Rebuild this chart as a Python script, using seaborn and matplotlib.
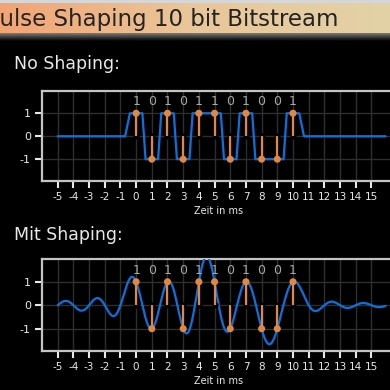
import numpy as np
import pandas as pd
import matplotlib.pyplot as plt
import seaborn as sns
from matplotlib.colors import LinearSegmentedColormap

# ── data ─────────────────────────────────────────────
bits = [1, 0, 1, 0, 1, 1, 0, 1, 0, 0, 1]
bit_times = list(range(11))
symbols = [1 if b else -1 for b in bits]
x_ticks = list(range(-5, 16))
y_ticks = [-1, 0, 1]
t_start, t_end = -5, 15.9
rise = 0.4  # half width of a bit plateau in the unshaped signal

title = "Pulse Shaping 10 bit Bitstream"
panel_titles = ["No Shaping:", "Mit Shaping:"]
x_label = "Zeit in ms"

blue = "#0a72de"
orange = "#e3873f"
spine_col = "#c4c4c4"
grid_col = "#2e2e2e"
text_col = "#e8e8e8"

# unshaped: rectangular pulses with short ramps
t_rect = [t_start, bit_times[0] - 1 + rise / 2 + 0.1]
v_rect = [0, 0]
for k, s in zip(bit_times, symbols):
    t_rect += [k - rise, k + rise]
    v_rect += [s, s]
t_rect += [bit_times[-1] + 1 - rise / 2 - 0.1, t_end]
v_rect += [0, 0]
rect = pd.DataFrame({"t": t_rect, "v": v_rect})

# shaped: sinc pulses of the same symbols
t = np.linspace(t_start, t_end, 900)
shaped = pd.DataFrame({"t": t})
shaped["v"] = sum(s * np.sinc(t - k) for k, s in zip(bit_times, symbols))

stems = pd.DataFrame({"t": bit_times, "v": symbols})

sns.set_theme(style="ticks")
plt.rcParams["font.family"] = ["DejaVu Sans"]

fig = plt.figure(figsize=(3.9, 3.9), dpi=100, facecolor="black")

# ── header bar ──────────────────────────────────────
head = fig.add_axes([0, 1 - 33 / 390, 1, 30 / 390])
cmap = LinearSegmentedColormap.from_list("hdr", ["#f2a474", "#e9c79a", "#e2d2a6"])
head.imshow(np.linspace(0, 1, 256)[None, :], aspect="auto", cmap=cmap,
            extent=[0, 1, 0, 1])
head.axis("off")
strip = fig.add_axes([0, 1 - 3 / 390, 1, 3 / 390])
strip.axis("off")
strip.add_patch(plt.Rectangle((0, 0), 1, 1, color="#d6d6d6", transform=strip.transAxes))
shade = fig.add_axes([0, 1 - 41 / 390, 1, 8 / 390])
shade_cmap = LinearSegmentedColormap.from_list("shd", ["#000000", "#8a8a8a"])
shade.imshow(np.linspace(0, 1, 64)[:, None], aspect="auto", cmap=shade_cmap,
             extent=[0, 1, 0, 1], origin="lower")
shade.axis("off")
fig.text(-0.036, 1 - 26 / 390, title, fontsize=16.5, color="#242424")


def panel(ax, line_df):
    ax.set_facecolor("black")
    ax.grid(True, color=grid_col, lw=1.0)
    ax.set_axisbelow(True)
    sns.lineplot(data=line_df, x="t", y="v", ax=ax, color=blue, lw=1.6,
                 sort=False, estimator=None, zorder=3)
    ax.scatter(bit_times, [0] * len(bit_times), color="black", s=12, zorder=4)
    ax.vlines(bit_times, 0, symbols, color=orange, lw=1.6, zorder=5)
    sns.scatterplot(data=stems, x="t", y="v", ax=ax, color=orange, s=26,
                    edgecolor="none", zorder=6)
    for k, b in zip(bit_times, bits):
        ax.text(k, 1.5, str(b), color="#a8a8a8", fontsize=9,
                ha="center", va="center", zorder=7)
    ax.set_xlim(-6, 16.5)
    ax.set_ylim(-1.95, 1.97)
    ax.set_xticks(x_ticks)
    ax.set_yticks(y_ticks)
    ax.set_xticklabels([str(x) for x in x_ticks], fontsize=7.5, color=text_col)
    ax.set_yticklabels([str(y) for y in y_ticks], fontsize=8, color=text_col)
    ax.tick_params(colors=text_col, width=1.5, length=5, pad=3)
    for side in ["top", "bottom", "left"]:
        ax.spines[side].set_color(spine_col)
        ax.spines[side].set_linewidth(1.6)
    ax.spines["right"].set_visible(False)
    ax.set_xlabel(x_label, color=text_col, fontsize=7, labelpad=3)
    ax.set_ylabel("")


ax1 = fig.add_axes([0.1077, 1 - 181 / 390, 0.905, 90 / 390])
panel(ax1, rect)
ax2 = fig.add_axes([0.1077, 1 - 351 / 390, 0.905, 92 / 390])
panel(ax2, shaped)

fig.text(14 / 390, 1 - 69 / 390, panel_titles[0], fontsize=12.5, color=text_col)
fig.text(14 / 390, 1 - 240 / 390, panel_titles[1], fontsize=12.5, color=text_col)

fig.savefig("out.png", dpi=100, facecolor="black")
